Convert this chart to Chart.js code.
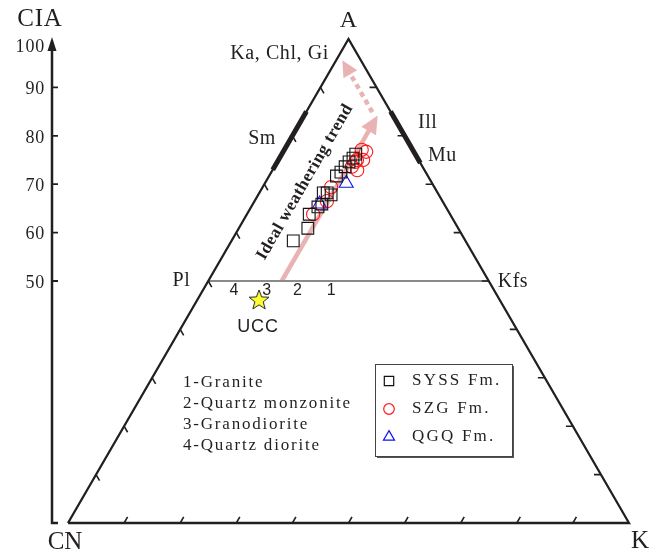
<!DOCTYPE html>
<html>
<head>
<meta charset="utf-8">
<script src="https://cdn.jsdelivr.net/npm/chart.js@4"></script>
<style>
  html, body { margin: 0; padding: 0; background: #fff; }
  canvas { display: block; }
</style>
</head>
<body>
<canvas id="chart" width="649" height="551"></canvas>
<script>
// A–CN–K molar proportions (%); A equals CIA, CN = 100 - A - K
const syssA = [58.3, 60.9, 63.8, 65.3, 65.9, 68.2, 68.2, 67.8, 71.7, 72.5, 73.6, 74.6, 75.4, 76.2];
const syssK = [11.0, 12.3, 11.1, 11.9, 12.3, 11.4, 12.1, 13.0, 12.0, 12.4, 12.6, 12.8, 13.1, 13.2];
const szgA  = [63.8, 66.5, 69.4, 73.6, 72.9, 75.0, 75.0, 77.1, 76.7, 74.6];
const szgK  = [11.8, 12.9, 12.2, 13.8, 15.1, 14.0, 15.1, 13.8, 14.8, 13.9];
const qgqA  = [65.9, 70.2];
const qgqK  = [11.9, 14.5];
const uccA  = [46.1];
const uccK  = [11.0];

// CIA axis and ternary edge ticks
const ciaTicks  = [50, 60, 70, 80, 90, 100];
const edgeTicks = [10, 20, 30, 40, 50, 60, 70, 80, 90];

// mineral ranges along the edges (A values)
const smRange  = [73, 85];
const illRange = [74.4, 85];

// average rock compositions on the plagioclase–K-feldspar join
const rockNames = ['4', '3', '2', '1'];
const rockK     = [5.6, 11.4, 16.9, 22.9];
const rockA     = 48;
const rockList  = ['1-Granite', '2-Quartz monzonite', '3-Granodiorite', '4-Quartz diorite'];

// ideal weathering trend: constant K, then constant CN
const trendK = 13.1, trendA = [50, 84.2];
const trendCN = 3.3, trend2A = [84.9, 95.6];

const series = ['SYSS Fm.', 'SZG Fm.', 'QGQ Fm.'];

// ternary (A, K) -> cartesian plot units (base 0..100, height 0..100)
const tern = (A, K) => ({ x: K + A / 2, y: A });
const pts = (As, Ks) => As.map((a, i) => tern(a, Ks[i]));

const INK = '#231f20';
const PINK = '#eab3b3';
const SERIF = '"Liberation Serif", "Times New Roman", serif';
const SANS = '"Liberation Sans", Arial, sans-serif';

function starImage() {
  const cv = document.createElement('canvas');
  cv.width = 26; cv.height = 26;
  const g = cv.getContext('2d');
  g.beginPath();
  for (let i = 0; i < 10; i++) {
    const r = i % 2 ? 4.4 : 10.5;
    const a = -Math.PI / 2 + i * Math.PI / 5;
    g.lineTo(13 + r * Math.cos(a), 13.5 + r * Math.sin(a));
  }
  g.closePath();
  g.fillStyle = '#ffff33';
  g.fill();
  g.strokeStyle = '#222';
  g.lineWidth = 1;
  g.stroke();
  return cv;
}

function text(ctx, s, x, y, font, align, spacing) {
  ctx.save();
  ctx.font = font;
  ctx.fillStyle = INK;
  ctx.textAlign = align || 'center';
  ctx.textBaseline = 'middle';
  ctx.letterSpacing = (spacing || 0) + 'px';
  ctx.fillText(s, x, y);
  ctx.restore();
}

function arrowHead(ctx, tip, dir, len, half) {
  const bx = tip[0] - dir[0] * len, by = tip[1] - dir[1] * len;
  ctx.beginPath();
  ctx.moveTo(tip[0], tip[1]);
  ctx.lineTo(bx - dir[1] * half, by + dir[0] * half);
  ctx.lineTo(bx + dir[1] * half, by - dir[0] * half);
  ctx.closePath();
  ctx.fill();
}

const decor = {
  id: 'decor',
  beforeDatasetsDraw(chart) {
    const ctx = chart.ctx;
    const xs = chart.scales.x, ys = chart.scales.y;
    const P = (A, K) => [xs.getPixelForValue(K + A / 2), ys.getPixelForValue(A)];

    // solid arrow (plagioclase removal)
    ctx.save();
    ctx.strokeStyle = PINK; ctx.fillStyle = PINK;
    const s0 = P(trendA[0], trendK), s1 = P(trendA[1], trendK);
    let dx = s1[0] - s0[0], dy = s1[1] - s0[1];
    let L = Math.hypot(dx, dy); let d = [dx / L, dy / L];
    ctx.lineWidth = 4.5;
    ctx.beginPath();
    ctx.moveTo(s0[0], s0[1]);
    ctx.lineTo(s1[0] - d[0] * 12, s1[1] - d[1] * 12);
    ctx.stroke();
    arrowHead(ctx, s1, d, 18, 8.5);

    // dotted arrow (K-feldspar removal)
    const t0 = P(trend2A[0], 100 - trend2A[0] - trendCN), t1 = P(trend2A[1], 100 - trend2A[1] - trendCN);
    dx = t1[0] - t0[0]; dy = t1[1] - t0[1];
    L = Math.hypot(dx, dy); d = [dx / L, dy / L];
    ctx.lineWidth = 4.5;
    ctx.setLineDash([5, 4]);
    ctx.beginPath();
    ctx.moveTo(t0[0], t0[1]);
    ctx.lineTo(t1[0] - d[0] * 14, t1[1] - d[1] * 14);
    ctx.stroke();
    ctx.setLineDash([]);
    arrowHead(ctx, t1, d, 16, 8);
    ctx.restore();
  },
  afterDatasetsDraw(chart) {
    const ctx = chart.ctx;
    const xs = chart.scales.x, ys = chart.scales.y;
    const P = (A, K) => [xs.getPixelForValue(K + A / 2), ys.getPixelForValue(A)];
    const tl = 7;

    // edge ticks
    ctx.save();
    ctx.strokeStyle = INK;
    ctx.lineWidth = 1.6;
    ctx.beginPath();
    edgeTicks.forEach(t => {
      let p = P(0, t);            // CN–K edge
      ctx.moveTo(p[0], p[1]); ctx.lineTo(p[0] + tl * 0.5, p[1] - tl * 0.866);
      p = P(t, 0);                // CN–A edge
      ctx.moveTo(p[0], p[1]); ctx.lineTo(p[0] + tl * 0.5, p[1] + tl * 0.866);
      p = P(t, 100 - t);          // A–K edge
      ctx.moveTo(p[0], p[1]); ctx.lineTo(p[0] - tl, p[1]);
    });
    ctx.stroke();

    // CIA axis
    const ax = 52;
    const y0 = ys.getPixelForValue(0);
    ctx.lineWidth = 2.5;
    ctx.beginPath();
    ctx.moveTo(ax + 6, y0); ctx.lineTo(ax, y0); ctx.lineTo(ax, 48);
    ctx.stroke();
    ctx.fillStyle = INK;
    ctx.beginPath();
    ctx.moveTo(ax, 37); ctx.lineTo(ax - 4.5, 51); ctx.lineTo(ax + 4.5, 51); ctx.closePath();
    ctx.fill();
    ctx.lineWidth = 1.8;
    ctx.beginPath();
    ciaTicks.filter(v => v < 100).forEach(v => {
      const y = ys.getPixelForValue(v);
      ctx.moveTo(ax, y); ctx.lineTo(ax + 6, y);
    });
    ctx.stroke();
    ctx.restore();
    ciaTicks.forEach(v => {
      const y = v === 100 ? ys.getPixelForValue(v) + 8 : ys.getPixelForValue(v) + 2;
      text(ctx, String(v), 45, y, '18px ' + SERIF, 'right', 0.8);
    });
    text(ctx, 'CIA', 40, 19, '25px ' + SERIF, 'center', 0.8);

    // apex and mineral labels
    const pA = P(100, 0), pCN = P(0, 0), pK = P(0, 100);
    text(ctx, 'A', pA[0], pA[1] - 18, '24px ' + SERIF);
    text(ctx, 'CN', pCN[0] - 3, pCN[1] + 19, '25px ' + SERIF);
    text(ctx, 'K', pK[0] + 11, pK[1] + 18, '25px ' + SERIF);
    text(ctx, 'Ka, Chl, Gi', 329, 54, '20px ' + SERIF, 'right', 0.6);
    text(ctx, 'Sm', 262, 139, '20px ' + SERIF, 'center', 0.5);
    text(ctx, 'Ill', 418, 123, '20px ' + SERIF, 'left', 0.5);
    text(ctx, 'Mu', 428, 156, '20px ' + SERIF, 'left', 0.5);
    const pPl = P(50, 0), pKfs = P(50, 50);
    text(ctx, 'Pl', pPl[0] - 18, pPl[1], '20px ' + SERIF, 'right', 0.5);
    text(ctx, 'Kfs', pKfs[0] + 9, pKfs[1] + 1, '20px ' + SERIF, 'left', 0.5);

    // rock compositions and UCC
    rockNames.forEach((n, i) => {
      const p = P(rockA, rockK[i]);
      text(ctx, n, p[0], p[1], '16px ' + SANS);
    });
    const pU = P(uccA[0], uccK[0]);
    text(ctx, 'UCC', pU[0] - 1, pU[1] + 27, '18px ' + SANS, 'center', 0.8);

    // trend label, parallel to the solid arrow
    ctx.save();
    ctx.translate(305, 182);
    ctx.rotate(-Math.PI / 3);
    text(ctx, 'Ideal weathering trend', 0, 0, 'bold 17px ' + SERIF, 'center', 0.5);
    ctx.restore();

    // rock type key
    rockList.forEach((s, i) => text(ctx, s, 183, 383 + i * 21, '17px ' + SERIF, 'left', 1.8));

    // series key
    ctx.save();
    const bx = 375, by = 364, bw = 137, bh = 92;
    ctx.fillStyle = '#555';
    ctx.fillRect(bx + 2, by + 2, bw, bh);
    ctx.fillStyle = '#fff';
    ctx.fillRect(bx, by, bw, bh);
    ctx.strokeStyle = '#444';
    ctx.lineWidth = 1;
    ctx.strokeRect(bx + 0.5, by + 0.5, bw, bh);
    ctx.restore();
    const keyY = [381, 409, 437];
    [0, 1, 2].forEach(i => {
      const ds = chart.data.datasets[i];
      ctx.save();
      ctx.strokeStyle = ds.pointBorderColor;
      ctx.lineWidth = 1.2;
      Chart.helpers.drawPoint(ctx, {
        pointStyle: ds.pointStyle, radius: ds.pointRadius * 0.8, rotation: 0, borderWidth: 1.2
      }, 389, keyY[i]);
      ctx.restore();
      text(ctx, series[i], 412, keyY[i], '17px ' + SERIF, 'left', 2.2);
    });
  }
};

const lineSet = (data, color, width) => ({
  data, showLine: true, borderColor: color, borderWidth: width,
  pointRadius: 0, fill: false, clip: false
});

new Chart(document.getElementById('chart'), {
  type: 'scatter',
  data: {
    datasets: [
      { label: series[0], data: pts(syssA, syssK), pointStyle: 'rect', pointRadius: 8.3,
        pointBorderColor: '#111', pointBackgroundColor: 'rgba(0,0,0,0)', pointBorderWidth: 1.1, clip: false },
      { label: series[1], data: pts(szgA, szgK), pointStyle: 'circle', pointRadius: 6.6,
        pointBorderColor: '#ff1a1a', pointBackgroundColor: 'rgba(0,0,0,0)', pointBorderWidth: 1.1, clip: false },
      { label: series[2], data: pts(qgqA, qgqK), pointStyle: 'triangle', pointRadius: 8,
        pointBorderColor: '#1010ff', pointBackgroundColor: 'rgba(0,0,0,0)', pointBorderWidth: 1.1, clip: false },
      { label: 'UCC', data: pts(uccA, uccK), pointStyle: starImage(), pointRadius: 10, clip: false },
      lineSet([tern(smRange[0], 0), tern(smRange[1], 0)], INK, 5),
      lineSet([tern(illRange[0], 100 - illRange[0]), tern(illRange[1], 100 - illRange[1])], INK, 5),
      lineSet([tern(0, 0), tern(0, 100), tern(100, 0), tern(0, 0)], INK, 2.3),
      lineSet([tern(50, 0), tern(50, 50)], '#8a8a8a', 2)
    ]
  },
  options: {
    responsive: false,
    animation: false,
    layout: { padding: { left: 68, top: 39, right: 20, bottom: 28 } },
    scales: {
      x: { type: 'linear', min: 0, max: 100, display: false },
      y: { type: 'linear', min: 0, max: 100, display: false }
    },
    plugins: { legend: { display: false }, tooltip: { enabled: false } },
    elements: { line: { tension: 0, borderJoinStyle: 'miter' } }
  },
  plugins: [decor]
});
</script>
</body>
</html>
